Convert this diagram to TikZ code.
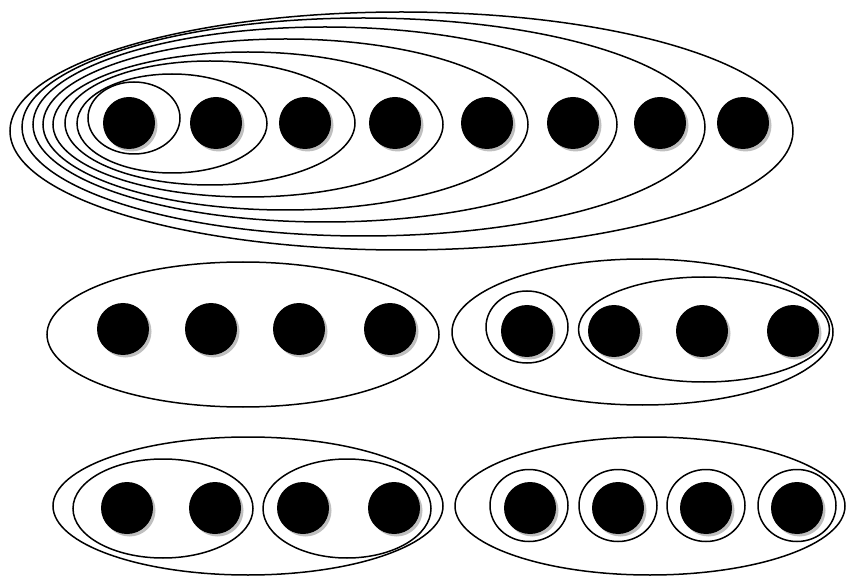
\documentclass[tikz,border=0pt]{standalone}
\usetikzlibrary{shapes.geometric,shadows}
\begin{document}
\begin{tikzpicture}[x=1pt,y=-1pt,
  dot/.style={circle,fill=black,inner sep=0pt,minimum size=52pt,
    drop shadow={shadow xshift=2.5pt,shadow yshift=-2.5pt,fill=black!25,opacity=1}},
  ring/.style={ellipse,draw=black,line width=1.5pt,inner sep=0pt},
]
\useasboundingbox (0,0) rectangle (846,577);
% ---------- top row ----------
\node[ring,minimum width=783pt,minimum height=238pt] (t8) at (401.5,131) {};
\node[ring,minimum width=683pt,minimum height=218pt] (t7) at (363.5,127) {};
\node[ring,minimum width=584pt,minimum height=195pt] (t6) at (325,124.5) {};
\node[ring,minimum width=485pt,minimum height=171pt] (t5) at (285.5,124.5) {};
\node[ring,minimum width=390pt,minimum height=145pt] (t4) at (248,124.5) {};
\node[ring,minimum width=290pt,minimum height=124pt] (t3) at (210,123) {};
\node[ring,minimum width=190pt,minimum height=99pt] (t2) at (172,123.5) {};
\node[ring,minimum width=92pt,minimum height=72pt] (t1) at (134,118) {};
\foreach \x [count=\i] in {129,216,305,395,487,573,660,743}
  \node[dot] (td\i) at (\x,123) {};
% ---------- middle left ----------
\node[ring,minimum width=392pt,minimum height=145pt] (ml) at (243,334.5) {};
\foreach \x [count=\i] in {123,211,299,390}
  \node[dot] (mld\i) at (\x,329) {};
% ---------- middle right ----------
\node[ring,minimum width=381pt,minimum height=146pt] (mr) at (642.5,332) {};
\node[ring,minimum width=82pt,minimum height=72pt] (mr1) at (527,327) {};
\node[ring,minimum width=251pt,minimum height=105pt] (mr2) at (704,329.5) {};
\foreach \x [count=\i] in {527,614,702,793}
  \node[dot] (mrd\i) at (\x,331) {};
% ---------- bottom left ----------
\node[ring,minimum width=390pt,minimum height=138pt] (bl) at (248,506) {};
\node[ring,minimum width=180pt,minimum height=99pt] (bl1) at (163,508.5) {};
\node[ring,minimum width=168pt,minimum height=99pt] (bl2) at (347,508.5) {};
\foreach \x [count=\i] in {127,215,303,394}
  \node[dot] (bld\i) at (\x,508) {};
% ---------- bottom right ----------
\node[ring,minimum width=390pt,minimum height=138pt] (br) at (650,506) {};
\foreach \x [count=\i] in {529,618,706,797}
  \node[ring,minimum width=78pt,minimum height=72pt] (brc\i) at (\x,505.5) {};
\foreach \x [count=\i] in {530,618,706,797}
  \node[dot] (brd\i) at (\x,508) {};
\end{tikzpicture}
\end{document}
